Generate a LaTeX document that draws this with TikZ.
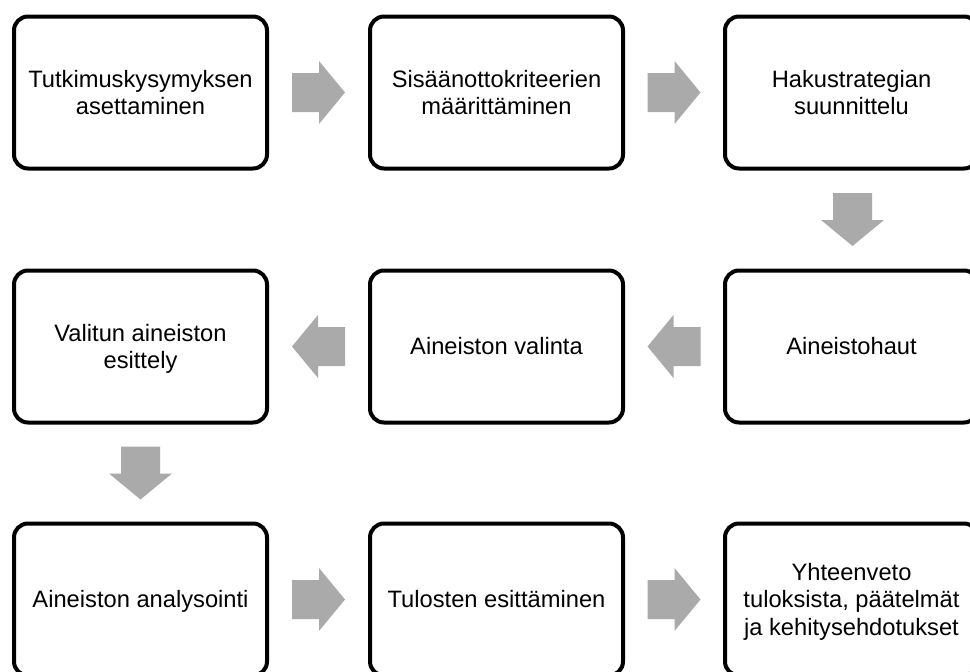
\documentclass[tikz,border=0pt]{standalone}
\usepackage{fontspec}
\setmainfont{Liberation Sans}
\usetikzlibrary{calc}
\definecolor{arrowgray}{RGB}{170,170,170}
\newcommand{\lnstrut}{\rule[-5pt]{0pt}{26.4pt}}
\tikzset{
  stepbox/.style={draw=black, line width=4pt, rounded corners=14pt, fill=white,
    minimum width=253pt, minimum height=152pt, inner sep=0pt, align=center,
    font=\fontsize{23.7}{27.3}\selectfont},
  barrow/.pic={\fill[arrowgray] (-26.5,-19.5) -- (0.5,-19.5) -- (0.5,-31.5) -- (26.5,0)
     -- (0.5,31.5) -- (0.5,19.5) -- (-26.5,19.5) -- cycle;}
}
\begin{document}
\begin{tikzpicture}[x=1pt,y=-1pt]
\path[use as bounding box, clip] (0,0) rectangle (970,672);
% row 1
\node[stepbox] (b1) at (140.5,92.5) {\lnstrut Tutkimuskysymyksen\\\lnstrut asettaminen};
\node[stepbox] (b2) at (496.5,92.5) {\lnstrut Sisäänottokriteerien\\\lnstrut määrittäminen};
\node[stepbox] (b3) at (851.5,92.5) {\lnstrut Hakustrategian\\\lnstrut suunnittelu};
% row 2
\node[stepbox] (b6) at (851.5,346.5) {\lnstrut Aineistohaut};
\node[stepbox] (b5) at (496.5,346.5) {\lnstrut Aineiston valinta};
\node[stepbox] (b4) at (140.5,346.5) {\lnstrut Valitun aineiston\\\lnstrut esittely};
% row 3
\node[stepbox] (b7) at (140.5,599.5) {\lnstrut Aineiston analysointi};
\node[stepbox] (b8) at (496.5,599.5) {\lnstrut Tulosten esittäminen};
\node[stepbox] (b9) at (851.5,599.5) {\lnstrut Yhteenveto\\\lnstrut tuloksista, päätelmät\\\lnstrut ja kehitysehdotukset};
% arrows
\pic at ($(b1.east)!0.5!(b2.west)$) {barrow};
\pic at ($(b2.east)!0.5!(b3.west)$) {barrow};
\pic[rotate=-90] at ($(b3.south)!0.5!(b6.north)+(1,0)$) {barrow};
\pic[rotate=180] at ($(b6.west)!0.5!(b5.east)$) {barrow};
\pic[rotate=180] at ($(b5.west)!0.5!(b4.east)$) {barrow};
\pic[rotate=-90] at ($(b4.south)!0.5!(b7.north)$) {barrow};
\pic at ($(b7.east)!0.5!(b8.west)$) {barrow};
\pic at ($(b8.east)!0.5!(b9.west)$) {barrow};
\end{tikzpicture}
\end{document}
